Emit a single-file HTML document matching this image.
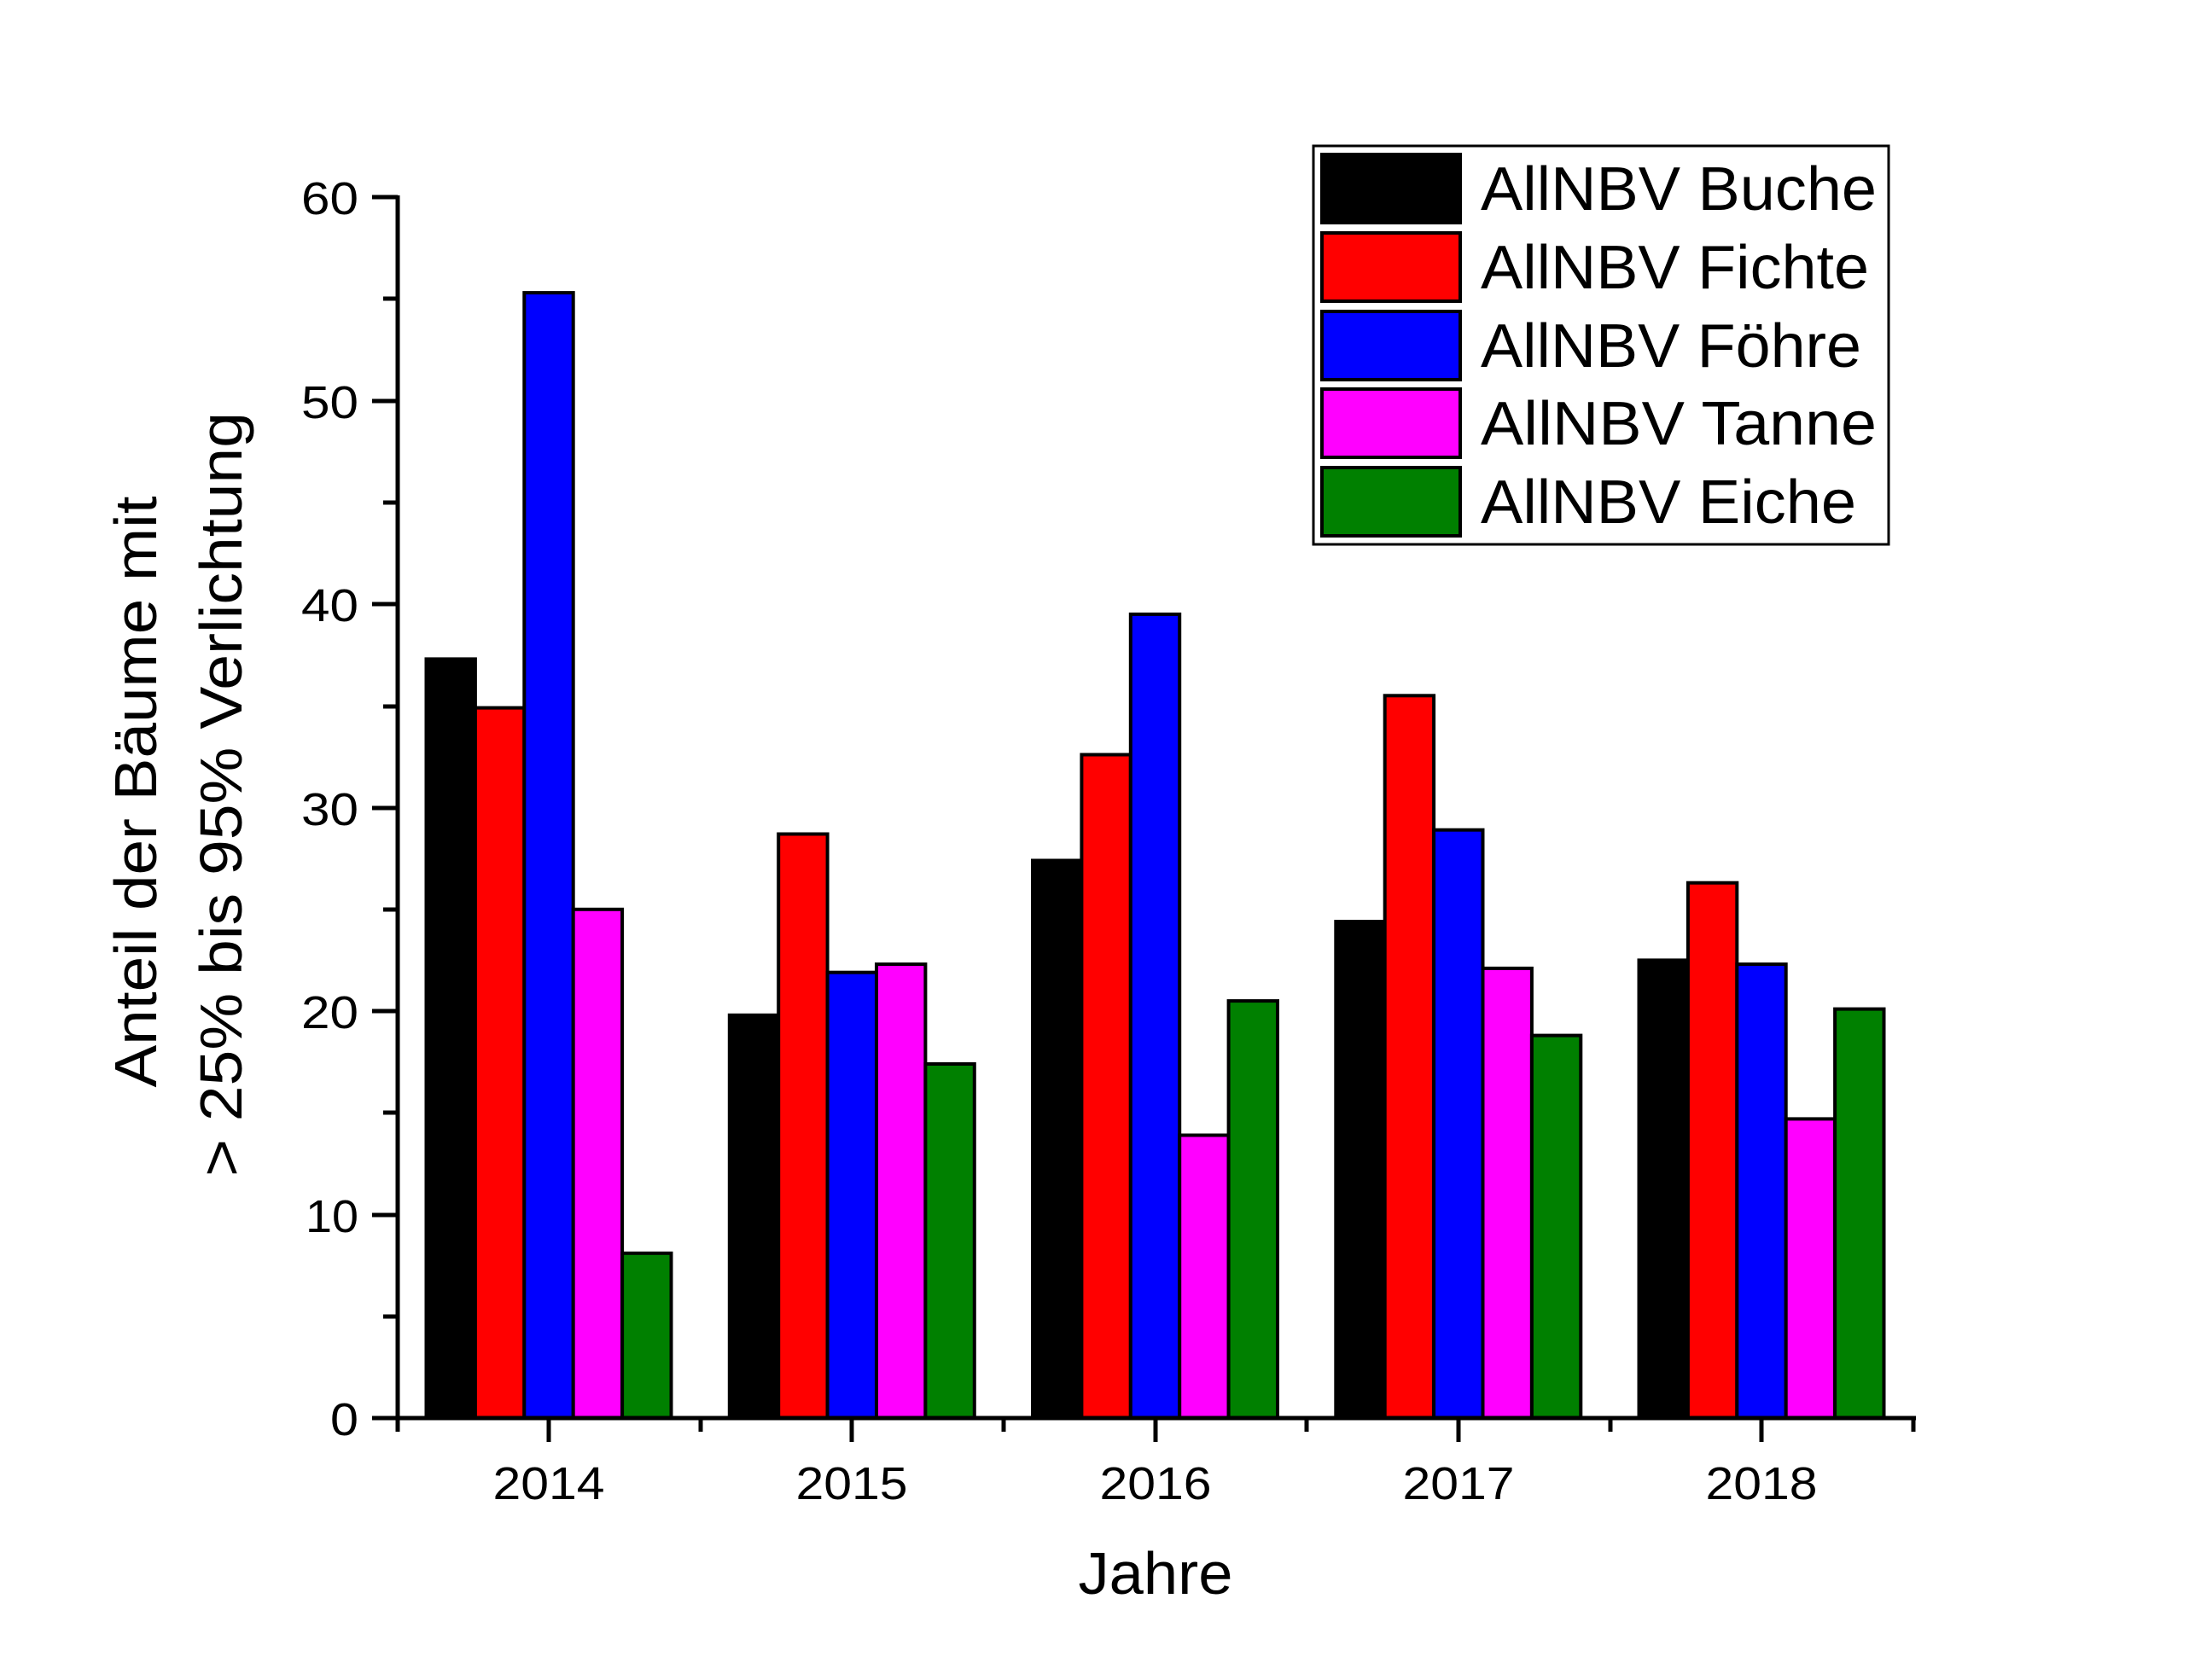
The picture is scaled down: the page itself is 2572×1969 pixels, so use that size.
<!DOCTYPE html>
<html><head><meta charset="utf-8"><style>html,body{margin:0;padding:0;background:#fff}svg{display:block}</style></head>
<body>
<svg width="2572" height="1969" viewBox="0 0 2572 1969" xmlns="http://www.w3.org/2000/svg">
<rect width="2572" height="1969" fill="#fff"/>
<g stroke="#000" stroke-width="4">
<rect x="499.5" y="772.4" width="57.4" height="889.6" fill="#000"/>
<rect x="556.9" y="829.6" width="57.4" height="832.4" fill="#ff0000"/>
<rect x="614.3" y="343.1" width="57.4" height="1318.9" fill="#0000ff"/>
<rect x="671.7" y="1065.8" width="57.4" height="596.2" fill="#ff00ff"/>
<rect x="729.1" y="1468.8" width="57.4" height="193.2" fill="#008000"/>
<rect x="854.8" y="1189.8" width="57.4" height="472.2" fill="#000"/>
<rect x="912.2" y="977.5" width="57.4" height="684.5" fill="#ff0000"/>
<rect x="969.6" y="1139.7" width="57.4" height="522.3" fill="#0000ff"/>
<rect x="1027.0" y="1130.1" width="57.4" height="531.9" fill="#ff00ff"/>
<rect x="1084.4" y="1247" width="57.4" height="415" fill="#008000"/>
<rect x="1210" y="1008.5" width="57.4" height="653.5" fill="#000"/>
<rect x="1267.4" y="884.5" width="57.4" height="777.5" fill="#ff0000"/>
<rect x="1324.8" y="719.9" width="57.4" height="942.1" fill="#0000ff"/>
<rect x="1382.2" y="1330.5" width="57.4" height="331.5" fill="#ff00ff"/>
<rect x="1439.6" y="1173.1" width="57.4" height="488.9" fill="#008000"/>
<rect x="1565.3" y="1080.1" width="57.4" height="581.9" fill="#000"/>
<rect x="1622.7" y="815.3" width="57.4" height="846.7" fill="#ff0000"/>
<rect x="1680.1" y="972.7" width="57.4" height="689.3" fill="#0000ff"/>
<rect x="1737.5" y="1134.9" width="57.4" height="527.1" fill="#ff00ff"/>
<rect x="1794.9" y="1213.6" width="57.4" height="448.4" fill="#008000"/>
<rect x="1920.5" y="1125.4" width="57.4" height="536.6" fill="#000"/>
<rect x="1977.9" y="1034.7" width="57.4" height="627.3" fill="#ff0000"/>
<rect x="2035.3" y="1130.1" width="57.4" height="531.9" fill="#0000ff"/>
<rect x="2092.7" y="1311.4" width="57.4" height="350.6" fill="#ff00ff"/>
<rect x="2150.1" y="1182.6" width="57.4" height="479.4" fill="#008000"/>
</g>
<g stroke="#000" stroke-width="5" fill="none">
<line x1="466" y1="229" x2="466" y2="1664"/>
<line x1="464" y1="1662" x2="2245" y2="1662"/>
<line x1="436" y1="231" x2="466" y2="231"/>
<line x1="449" y1="350" x2="466" y2="350"/>
<line x1="436" y1="470" x2="466" y2="470"/>
<line x1="449" y1="589" x2="466" y2="589"/>
<line x1="436" y1="708" x2="466" y2="708"/>
<line x1="449" y1="828" x2="466" y2="828"/>
<line x1="436" y1="947" x2="466" y2="947"/>
<line x1="449" y1="1066" x2="466" y2="1066"/>
<line x1="436" y1="1185" x2="466" y2="1185"/>
<line x1="449" y1="1304" x2="466" y2="1304"/>
<line x1="436" y1="1424" x2="466" y2="1424"/>
<line x1="449" y1="1543" x2="466" y2="1543"/>
<line x1="436" y1="1662" x2="466" y2="1662"/>
<line x1="466" y1="1662" x2="466" y2="1678"/>
<line x1="643" y1="1662" x2="643" y2="1690"/>
<line x1="821" y1="1662" x2="821" y2="1678"/>
<line x1="998" y1="1662" x2="998" y2="1690"/>
<line x1="1176" y1="1662" x2="1176" y2="1678"/>
<line x1="1354" y1="1662" x2="1354" y2="1690"/>
<line x1="1531" y1="1662" x2="1531" y2="1678"/>
<line x1="1709" y1="1662" x2="1709" y2="1690"/>
<line x1="1887" y1="1662" x2="1887" y2="1678"/>
<line x1="2064" y1="1662" x2="2064" y2="1690"/>
<line x1="2242" y1="1662" x2="2242" y2="1678"/>
</g>
<g font-family="Liberation Sans, sans-serif" font-size="54" fill="#000" text-anchor="end">
<text x="420" y="251" textLength="67" lengthAdjust="spacingAndGlyphs">60</text>
<text x="420" y="490" textLength="67" lengthAdjust="spacingAndGlyphs">50</text>
<text x="420" y="728" textLength="67" lengthAdjust="spacingAndGlyphs">40</text>
<text x="420" y="967" textLength="67" lengthAdjust="spacingAndGlyphs">30</text>
<text x="420" y="1205" textLength="67" lengthAdjust="spacingAndGlyphs">20</text>
<text x="420" y="1444" textLength="62" lengthAdjust="spacingAndGlyphs">10</text>
<text x="420" y="1682" textLength="33" lengthAdjust="spacingAndGlyphs">0</text>
</g>
<g font-family="Liberation Sans, sans-serif" font-size="54" fill="#000" text-anchor="middle">
<text x="643" y="1757" textLength="131" lengthAdjust="spacingAndGlyphs">2014</text>
<text x="998" y="1757" textLength="131" lengthAdjust="spacingAndGlyphs">2015</text>
<text x="1354" y="1757" textLength="131" lengthAdjust="spacingAndGlyphs">2016</text>
<text x="1709" y="1757" textLength="131" lengthAdjust="spacingAndGlyphs">2017</text>
<text x="2064" y="1757" textLength="131" lengthAdjust="spacingAndGlyphs">2018</text>
</g>
<text x="1354" y="1868" font-family="Liberation Sans Narrow, Liberation Sans, sans-serif" font-size="70" text-anchor="middle" textLength="181" lengthAdjust="spacingAndGlyphs">Jahre</text>
<g font-family="Liberation Sans Narrow, Liberation Sans, sans-serif" font-size="70" text-anchor="middle">
<text transform="translate(183,928) rotate(-90)" textLength="693" lengthAdjust="spacingAndGlyphs">Anteil der Bäume mit</text>
<text transform="translate(283,931) rotate(-90)" textLength="896" lengthAdjust="spacingAndGlyphs">&gt; 25% bis 95% Verlichtung</text>
</g>
<rect x="1539" y="171" width="674" height="467" fill="#fff" stroke="#000" stroke-width="3"/>
<g stroke="#000" stroke-width="4">
<rect x="1549" y="181" width="162" height="80" fill="#000"/>
<rect x="1549" y="273" width="162" height="80" fill="#ff0000"/>
<rect x="1549" y="365" width="162" height="80" fill="#0000ff"/>
<rect x="1549" y="456" width="162" height="80" fill="#ff00ff"/>
<rect x="1549" y="548" width="162" height="80" fill="#008000"/>
</g>
<g font-family="Liberation Sans, sans-serif" font-size="72" fill="#000">
<text x="1735" y="246" textLength="464" lengthAdjust="spacingAndGlyphs">AllNBV Buche</text>
<text x="1735" y="338" textLength="455" lengthAdjust="spacingAndGlyphs">AllNBV Fichte</text>
<text x="1735" y="430" textLength="446" lengthAdjust="spacingAndGlyphs">AllNBV Föhre</text>
<text x="1735" y="521" textLength="464" lengthAdjust="spacingAndGlyphs">AllNBV Tanne</text>
<text x="1735" y="613" textLength="440" lengthAdjust="spacingAndGlyphs">AllNBV Eiche</text>
</g>
</svg>
</body></html>
